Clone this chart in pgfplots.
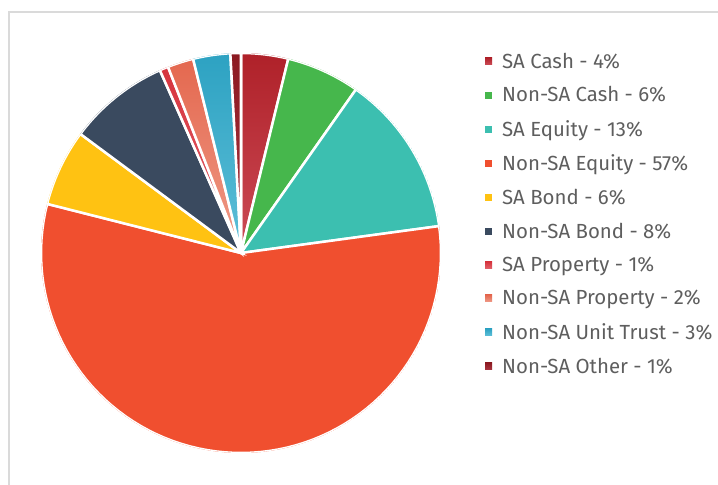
\documentclass[border=0pt]{standalone}
\usepackage{pgfplots}
\pgfplotsset{compat=1.18}
\usepgfplotslibrary{polar}
\usepackage{fontspec}
\setmainfont{Fira Sans}
\definecolor{framegray}{HTML}{DADADA}
\definecolor{textgray}{HTML}{5E5E5E}
\definecolor{cashT}{HTML}{AF2129}\definecolor{cashB}{HTML}{CC4B56}
\definecolor{nscash}{HTML}{46B74C}
\definecolor{saeq}{HTML}{3CBFB0}
\definecolor{nseq}{HTML}{F04F2F}
\definecolor{sabond}{HTML}{FFC212}
\definecolor{nsbond}{HTML}{3A4A5F}
\definecolor{propT}{HTML}{D6343E}\definecolor{propB}{HTML}{E2636C}
\definecolor{nspropT}{HTML}{E4684F}\definecolor{nspropB}{HTML}{EF9B88}
\definecolor{utT}{HTML}{2DA2C2}\definecolor{utB}{HTML}{5EBFD8}
\definecolor{othT}{HTML}{8C1A21}\definecolor{othB}{HTML}{AA3541}
\def\cum{0}
\newcommand\slice[3]{%
  \pgfmathsetmacro\sA{90-3.6*(\cum+#2)}%
  \pgfmathsetmacro\sB{90-3.6*\cum}%
  \pgfmathsetmacro\newcum{\cum+#2}\global\let\cum\newcum
  \edef\temp{\noexpand\addplot[#1, draw=white, line width=2.5bp, domain=\sA:\sB, samples=80] {1} -- (axis cs:0,0) -- cycle;}\temp
  \addlegendentry{#3}}
\begin{document}
\begin{tikzpicture}
\useasboundingbox (0bp,0bp) rectangle (718bp,485bp);
\draw[framegray, line width=1.6bp] (9bp,0bp) -- (9bp,473bp) -- (718bp,473bp);
\begin{polaraxis}[
  at={(241bp,232bp)}, anchor=center,
  hide axis, scale only axis, width=400bp, height=400bp,
  ymin=0, ymax=1,
  legend style={at={(axis description cs:1.11,1.011)}, anchor=north west,
    draw=none, fill=none, font=\fontsize{20.5}{24}\selectfont, text=textgray,
    row sep=13.1bp, column sep=8bp, inner xsep=0pt, cells={anchor=west, inner xsep=0pt}},
  legend image code/.code={\fill[#1, draw=none] (0bp,-3.5bp) rectangle (7bp,3.5bp);},
]
\slice{top color=cashT, bottom color=cashB}{3.8}{SA Cash - 4\%}
\slice{fill=nscash}{5.95}{Non-SA Cash - 6\%}
\slice{fill=saeq}{13.1}{SA Equity - 13\%}
\slice{fill=nseq}{56.1}{Non-SA Equity - 57\%}
\slice{fill=sabond}{6.2}{SA Bond - 6\%}
\slice{fill=nsbond}{8.2}{Non-SA Bond - 8\%}
\slice{top color=propT, bottom color=propB}{0.7}{SA Property - 1\%}
\slice{top color=nspropT, bottom color=nspropB}{2.1}{Non-SA Property - 2\%}
\slice{top color=utT, bottom color=utB}{3.0}{Non-SA Unit Trust - 3\%}
\slice{top color=othT, bottom color=othB}{0.85}{Non-SA Other - 1\%}
\end{polaraxis}
\end{tikzpicture}
\end{document}
